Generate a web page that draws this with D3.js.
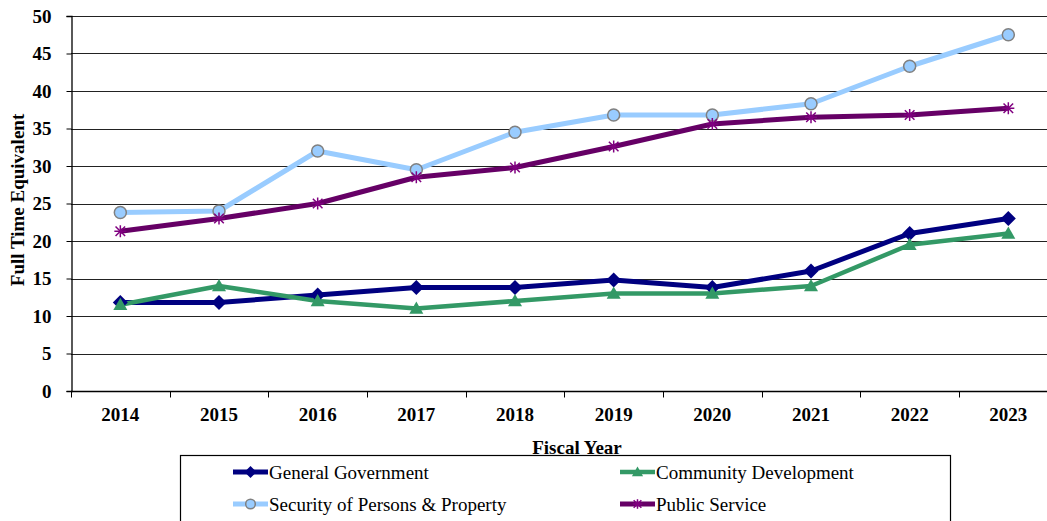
<!DOCTYPE html>
<html>
<head>
<meta charset="utf-8">
<script src="https://cdn.jsdelivr.net/npm/d3@7"></script>
<style>
  html, body { margin: 0; padding: 0; background: #fff; }
  svg { display: block; }
</style>
</head>
<body>
<svg id="chart" width="1047" height="521"></svg>
<script>
// Fiscal years and FTE counts per function
const years = ["2014","2015","2016","2017","2018","2019","2020","2021","2022","2023"];
const generalGovernment = [11.8, 11.8, 12.8, 13.8, 13.8, 14.8, 13.8, 16, 21, 23];
const communityDevelopment = [11.5, 14, 12, 11, 12, 13, 13, 14, 19.5, 21];
const securityPersonsProperty = [23.8, 24, 32, 29.5, 34.5, 36.8, 36.8, 38.3, 43.3, 47.5];
const publicService = [21.3, 23, 25, 28.5, 29.8, 32.6, 35.6, 36.5, 36.8, 37.7];
const yTicks = [0, 5, 10, 15, 20, 25, 30, 35, 40, 45, 50];

const series = [
  { name: "General Government", values: generalGovernment, color: "#000080", width: 5, marker: "diamond" },
  { name: "Community Development", values: communityDevelopment, color: "#339966", width: 4.5, marker: "triangle" },
  { name: "Security of Persons & Property", values: securityPersonsProperty, color: "#99CCFF", width: 5, marker: "circle" },
  { name: "Public Service", values: publicService, color: "#660066", width: 5, marker: "star" }
];

const FONT = "'Liberation Serif', Tinos, 'Times New Roman', serif";
const svg = d3.select("#chart").style("font-family", FONT);
const plotLeft = 71, plotTop = 16, plotBottom = 391;
const step = (1008 - 120) / 9;
const plotRight = plotLeft + step * years.length;

const x = d3.scaleBand().domain(years).range([plotLeft, plotRight]).paddingInner(0).paddingOuter(0);
const y = d3.scaleLinear().domain([0, 50]).range([plotBottom, plotTop]);

// horizontal gridlines
svg.append("g").selectAll("line").data(yTicks.filter(d => d > 0)).join("line")
  .attr("x1", plotLeft).attr("x2", 1047)
  .attr("y1", d => Math.round(y(d)) + 0.5).attr("y2", d => Math.round(y(d)) + 0.5)
  .attr("stroke", "#222").attr("stroke-width", 1.2);

// y axis
const yAxis = svg.append("g").attr("transform", `translate(${plotLeft + 0.5},0)`)
  .call(d3.axisLeft(y).tickValues(yTicks).tickSize(5).tickPadding(15));
yAxis.attr("font-family", null).attr("font-size", null);
yAxis.select(".domain").attr("stroke", "#000").attr("stroke-width", 1.3);
yAxis.selectAll(".tick line").attr("stroke", "#000");
yAxis.selectAll(".tick text").style("font-family", FONT).style("font-size", "19px")
  .style("font-weight", "bold").attr("fill", "#000");

// x axis with ticks at category boundaries
const xAxisG = svg.append("g").attr("transform", `translate(0,${plotBottom + 0.5})`);
xAxisG.append("line").attr("x1", plotLeft).attr("x2", 1047).attr("stroke", "#000").attr("stroke-width", 1.3);
xAxisG.selectAll("line.tk").data(years).join("line").attr("class", "tk")
  .attr("x1", d => Math.round(x(d)) + 0.5).attr("x2", d => Math.round(x(d)) + 0.5)
  .attr("y1", 0).attr("y2", 6).attr("stroke", "#000");
xAxisG.selectAll("text").data(years).join("text")
  .attr("x", d => x(d) + x.bandwidth() / 2).attr("y", 29)
  .attr("text-anchor", "middle").style("font-family", FONT).style("font-size", "19px")
  .style("font-weight", "bold").text(d => d);

// axis titles
svg.append("text").attr("x", 577).attr("y", 454).attr("text-anchor", "middle")
  .style("font-family", FONT).style("font-size", "19px").style("font-weight", "bold").text("Fiscal Year");
svg.append("text").attr("transform", "translate(24,200) rotate(-90)")
  .attr("text-anchor", "middle").style("font-family", FONT).style("font-size", "19px")
  .style("font-weight", "bold").text("Full Time Equivalent");

const cx = d => x(d) + x.bandwidth() / 2;

function drawMarker(g, type, px, py, scale) {
  const s = scale || 1;
  if (type === "diamond") {
    const r = 7.5 * s;
    g.append("path").attr("d", `M${px},${py - r}L${px + r},${py}L${px},${py + r}L${px - r},${py}Z`)
      .attr("fill", "#000080");
  } else if (type === "triangle") {
    const r = 7 * s;
    g.append("path").attr("d", `M${px},${py - r}L${px + r},${py + r * 0.75}L${px - r},${py + r * 0.75}Z`)
      .attr("fill", "#339966");
  } else if (type === "circle") {
    g.append("circle").attr("cx", px).attr("cy", py).attr("r", 6 * s)
      .attr("fill", "#99CCFF").attr("stroke", "#808080").attr("stroke-width", 1.5);
  } else if (type === "star") {
    const r = 6 * s;
    const p = g.append("g").attr("stroke", "#800080").attr("stroke-width", 1.5);
    p.append("line").attr("x1", px - r).attr("x2", px + r).attr("y1", py).attr("y2", py);
    p.append("line").attr("x1", px - r * 0.8).attr("x2", px + r * 0.8).attr("y1", py - r * 0.8).attr("y2", py + r * 0.8);
    p.append("line").attr("x1", px - r * 0.8).attr("x2", px + r * 0.8).attr("y1", py + r * 0.8).attr("y2", py - r * 0.8);
    p.append("line").attr("x1", px).attr("x2", px).attr("y1", py - r).attr("y2", py + r);
  }
}

const line = d3.line().x((d, i) => cx(years[i])).y(d => y(d));

// series, drawn in order so later ones sit on top
series.forEach(s => {
  svg.append("path").datum(s.values).attr("d", line)
    .attr("fill", "none").attr("stroke", s.color).attr("stroke-width", s.width)
    .attr("stroke-linejoin", "round");
});
series.forEach(s => {
  const g = svg.append("g");
  s.values.forEach((v, i) => drawMarker(g, s.marker, cx(years[i]), y(v)));
});

// legend
const legend = svg.append("g");
legend.append("rect").attr("x", 180.5).attr("y", 455.5).attr("width", 770).attr("height", 80)
  .attr("fill", "#fff").attr("stroke", "#000").attr("stroke-width", 1.2);
const legendPos = [
  { lx: 233, ly: 472 }, { lx: 620, ly: 472 },
  { lx: 233, ly: 504 }, { lx: 620, ly: 504 }
];
series.forEach((s, k) => {
  const p = legendPos[k];
  const g = legend.append("g");
  g.append("line").attr("x1", p.lx).attr("x2", p.lx + 35).attr("y1", p.ly).attr("y2", p.ly)
    .attr("stroke", s.color).attr("stroke-width", s.width);
  drawMarker(g, s.marker, p.lx + 17.5, p.ly, 0.8);
  g.append("text").attr("x", p.lx + 36).attr("y", p.ly + 6.5)
    .style("font-family", FONT).style("font-size", "19px").text(s.name);
});
</script>
</body>
</html>
